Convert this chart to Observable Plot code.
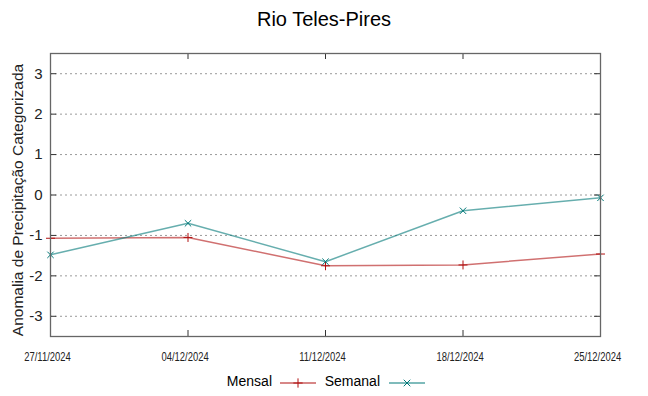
<!DOCTYPE html>
<html>
<head>
<meta charset="utf-8">
<script src="https://cdn.jsdelivr.net/npm/d3@7"></script>
<script src="https://cdn.jsdelivr.net/npm/@observablehq/plot@0.6"></script>
<style>
  body { margin: 0; background: #fff; font-family: "Liberation Sans", Arial, sans-serif; }
  #wrap { position: relative; width: 648px; height: 396px; }
  #title { position: absolute; left: 0; top: 8px; width: 648px; text-align: center; font-size: 20px; color: #000; }
  #legend { position: absolute; top: 373px; left: 0; width: 648px; font-size: 14px; color: #000; }
  .lg { position: absolute; top: 0; }
</style>
</head>
<body>
<div id="wrap">
  <div id="chart"></div>
  <div id="title">Rio Teles-Pires</div>
  <div id="legend"></div>
</div>
<script>
const dates = ["27/11/2024", "04/12/2024", "11/12/2024", "18/12/2024", "25/12/2024"];
const mensal = [-1.07, -1.05, -1.75, -1.73, -1.46];
const semanal = [-1.48, -0.70, -1.65, -0.39, -0.07];
const yTicks = [-3, -2, -1, 0, 1, 2, 3];
const seriesNames = ["Mensal", "Semanal"];
const seriesColors = ["#b01010", "#007878"];

const parse = d3.timeParse("%d/%m/%Y");
const fmt = d3.timeFormat("%d/%m/%Y");
const xDates = dates.map(parse);
const rowsM = xDates.map((d, i) => ({date: d, v: mensal[i]}));
const rowsS = xDates.map((d, i) => ({date: d, v: semanal[i]}));

const W = 648, H = 396;
const mL = 50, mR = 48, mT = 53, mB = 60;
const fW = W - mL - mR, fH = H - mT - mB;

const chart = Plot.plot({
  width: W, height: H,
  marginLeft: mL, marginRight: mR, marginTop: mT, marginBottom: mB,
  style: {fontFamily: "Liberation Sans, Arial, sans-serif", background: "#fff"},
  x: {type: "utc", domain: [xDates[0], xDates[xDates.length - 1]], axis: null},
  y: {domain: [-3.5, 3.5], axis: null},
  marks: [
    Plot.ruleY(yTicks, {stroke: "#9a9a9a", strokeDasharray: "2,3", strokeWidth: 1}),
    Plot.text(yTicks, {y: d => d, frameAnchor: "left", dx: -8, textAnchor: "end", text: d => String(d), fontSize: 15, fill: "#222"}),
    Plot.text(xDates, {x: d => d, frameAnchor: "bottom", dy: 21, text: d => fmt(d), fontSize: 13.5, fill: "#222", className: "xlab"}),
    Plot.tickY(yTicks, {y: d => d, insetRight: fW - 6, stroke: "#333"}),
    Plot.tickY(yTicks, {y: d => d, insetLeft: fW - 6, stroke: "#333"}),
    Plot.tickX(xDates, {x: d => d, insetTop: fH - 6, stroke: "#333"}),
    Plot.tickX(xDates, {x: d => d, insetBottom: fH - 6, stroke: "#333"}),
    Plot.line(rowsM, {x: "date", y: "v", stroke: seriesColors[0], strokeOpacity: 0.6, strokeWidth: 1.5}),
    Plot.line(rowsS, {x: "date", y: "v", stroke: seriesColors[1], strokeOpacity: 0.6, strokeWidth: 1.5}),
    Plot.dot(rowsM, {x: "date", y: "v", symbol: "plus", r: 3, stroke: seriesColors[0], strokeWidth: 1}),
    Plot.dot(rowsS, {x: "date", y: "v", symbol: "times", r: 3, stroke: seriesColors[1], strokeWidth: 1}),
    Plot.frame({stroke: "#666", strokeWidth: 1.3}),
    Plot.text(["Anomalia de Precipitação Categorizada"], {frameAnchor: "left", dx: -32, dy: 5, rotate: -90, textAnchor: "middle", fontSize: 15.5, fill: "#222"})
  ]
});
document.getElementById("chart").appendChild(chart);
// condense the x tick labels like the reference's narrow font
d3.select(chart).selectAll("g.xlab text").each(function() {
  const t = this.getAttribute("transform") || "";
  this.setAttribute("transform", t + " translate(-3,3) scale(0.7,1)");
});

const legend = document.getElementById("legend");
const entries = [
  {name: seriesNames[0], right: 272, lineX: 280, sym: "plus", color: seriesColors[0]},
  {name: seriesNames[1], right: 380, lineX: 389, sym: "times", color: seriesColors[1]}
];
for (const e of entries) {
  const t = document.createElement("div");
  t.className = "lg";
  t.style.right = (648 - e.right) + "px";
  t.textContent = e.name;
  legend.appendChild(t);
  const svg = d3.create("svg").attr("width", 38).attr("height", 16)
    .style("position", "absolute").style("left", e.lineX + "px").style("top", "2px");
  svg.append("line").attr("x1", 0).attr("x2", 36).attr("y1", 8).attr("y2", 8).attr("stroke", e.color).attr("stroke-width", 1.2);
  const p = d3.symbol(e.sym === "plus" ? d3.symbolPlus : d3.symbolTimes, 30)();
  svg.append("path").attr("d", p).attr("transform", "translate(18,8)").attr("fill", "none").attr("stroke", e.color).attr("stroke-width", 1);
  legend.appendChild(svg.node());
}
</script>
</body>
</html>
